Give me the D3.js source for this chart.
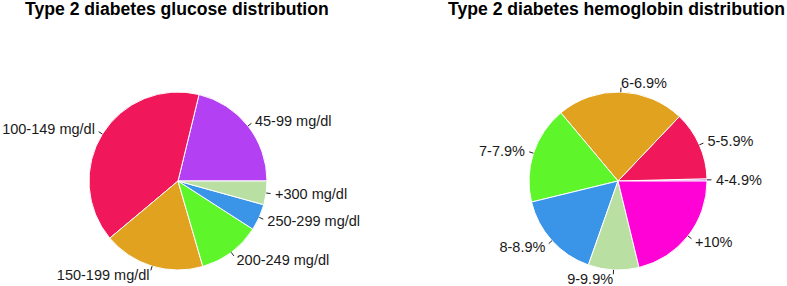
<!DOCTYPE html>
<html>
<head>
<meta charset="utf-8">
<script src="https://cdn.jsdelivr.net/npm/d3@7"></script>
<style>
  body { margin: 0; background: #fff; }
  svg { display: block; }
  text { font-family: "Liberation Sans", Arial, sans-serif; }
</style>
</head>
<body>
<svg id="chart" width="787" height="286"></svg>
<script>
// glucose pie
const glucoseLabels = ['45-99 mg/dl', '100-149 mg/dl', '150-199 mg/dl', '200-249 mg/dl', '250-299 mg/dl', '+300 mg/dl'];
const glucoseValues = [21.2, 39.9, 18.4, 11.4, 4.8, 4.3];
const glucoseColors = ['#b340f2', '#f0175a', '#e1a21f', '#5ff52b', '#3a95e9', '#b9e0a2'];

// hemoglobin pie
const hemoLabels = ['4-4.9%', '5-5.9%', '6-6.9%', '7-7.9%', '8-8.9%', '9-9.9%', '+10%'];
const hemoValues = [0.4, 12.5, 23.2, 17.7, 15.8, 9.2, 21.2];
const hemoColors = ['#b340f2', '#f0175a', '#e1a21f', '#5ff52b', '#3a95e9', '#b9e0a2', '#ff03d6'];

const titles = ['Type 2 diabetes glucose distribution', 'Type 2 diabetes hemoglobin distribution'];

const svg = d3.select('#chart');
const r = 89;

function drawPie (cx, cy, titleX, title, labels, values, colors) {
  svg.append('text')
    .attr('x', titleX)
    .attr('y', 15)
    .style('font-weight', 'bold')
    .style('font-size', '17.6px')
    .style('fill', '#000')
    .text(title);

  // R-style pie: counter-clockwise, starting at 3 o'clock
  const pie = d3.pie().sort(null)
    .startAngle(Math.PI / 2)
    .endAngle(Math.PI / 2 - 2 * Math.PI);
  const arcs = pie(values);
  const arc = d3.arc().innerRadius(0).outerRadius(r);

  const g = svg.append('g').attr('transform', `translate(${cx}, ${cy})`);

  g.selectAll('path')
    .data(arcs).enter().append('path')
    .attr('d', arc)
    .style('fill', (d, i) => colors[i])
    .style('stroke', '#fff')
    .style('stroke-width', '1px');

  arcs.forEach((d, i) => {
    const a = (d.startAngle + d.endAngle) / 2;
    const ux = Math.sin(a), uy = -Math.cos(a);
    g.append('line')
      .attr('x1', ux * r).attr('y1', uy * r)
      .attr('x2', ux * r * 1.05).attr('y2', uy * r * 1.05)
      .style('stroke', '#222')
      .style('stroke-width', '1px');
    g.append('text')
      .attr('x', ux * r * 1.1)
      .attr('y', uy * r * 1.1)
      .attr('dy', '0.35em')
      .attr('text-anchor', ux > 0 ? 'start' : 'end')
      .style('font-size', '14.5px')
      .style('fill', '#1a1a1a')
      .text(labels[i]);
  });
}

drawPie(178, 181, 25, titles[0], glucoseLabels, glucoseValues, glucoseColors);
drawPie(618, 181, 448, titles[1], hemoLabels, hemoValues, hemoColors);
</script>
</body>
</html>
